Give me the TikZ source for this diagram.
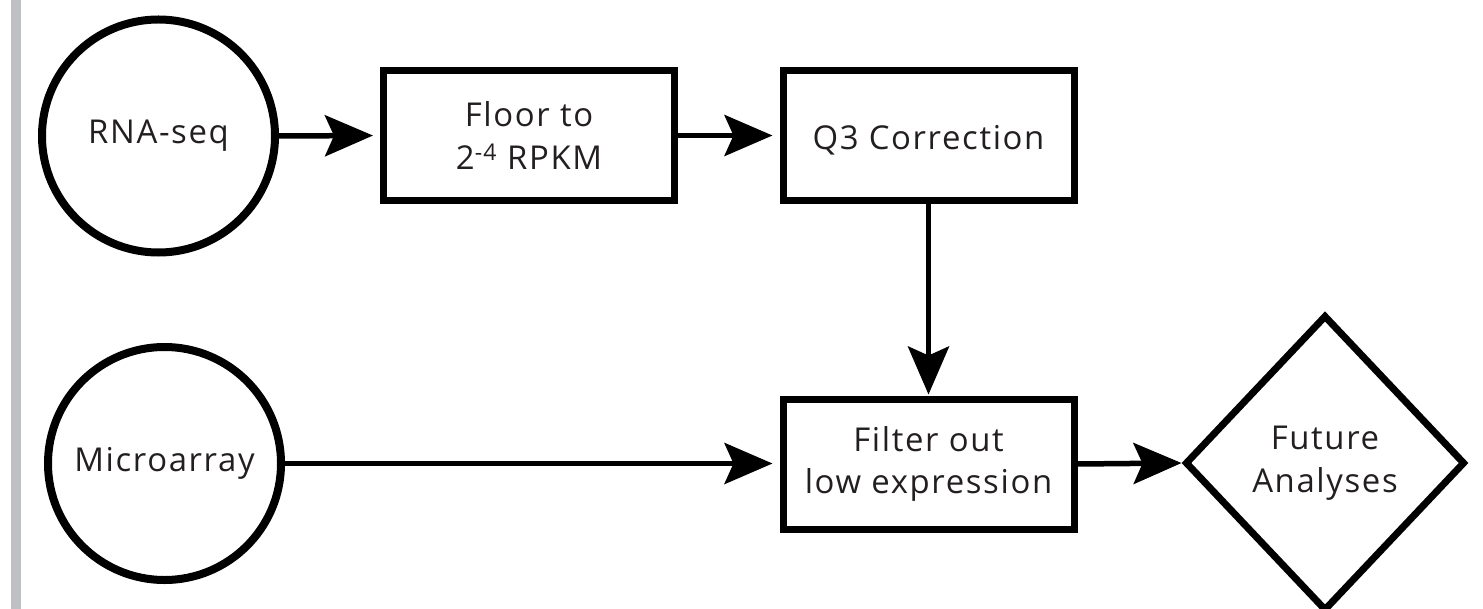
\documentclass[tikz,border=0pt]{standalone}
\usepackage{fontspec}
\setmainfont[LetterSpace=5]{Open Sans}
\usetikzlibrary{arrows.meta,shapes.geometric}
\definecolor{txt}{RGB}{35,31,32}
\definecolor{bar}{RGB}{190,192,196}
\tikzset{
  every node/.style={text=txt, font=\fontsize{33}{43}\selectfont, align=center, inner sep=0pt},
  startnode/.style={circle, draw=black, line width=8bp, minimum size=233bp},
  procbox/.style={rectangle, draw=black, line width=7bp, minimum width=291bp, minimum height=130bp},
  endnode/.style={diamond, draw=black, line width=7bp, minimum width=280bp, minimum height=296bp},
  flow/.style={draw=black, line width=5.5bp, -{Stealth[length=48bp,width=41bp,inset=9bp]}},
}
\begin{document}
\begin{tikzpicture}[x=1bp,y=-1bp]
\useasboundingbox (0,0) rectangle (1483,609);
\clip (0,0) rectangle (1483,609);
\fill[bar] (11,0) rectangle (21,609);
\node[startnode] (rna) at (158.5,136) {RNA-seq};
\node[startnode] (micro) at (164.5,463.5) {Microarray};
\node[procbox] (floor) at (529,135.5) {Floor to\\2\textsuperscript{-4} RPKM};
\node[procbox, text height=29bp, text depth=0bp] (q3) at (928.5,135.5) {Q3 Correction};
\node[procbox] (filter) at (928.5,464) {Filter out\\low expression};
\node[endnode] (future) at (1325,463) {Future\\Analyses};
\draw[flow, shorten >=7bp] (rna.east) -- (floor.west);
\draw[flow, shorten >=7bp] (floor.east) -- (q3.west);
\draw[flow, shorten >=1bp] (q3.south) -- (filter.north);
\draw[flow, shorten >=7bp] (micro.east) -- (micro.east -| filter.west);
\draw[flow] (filter.east) -- (future.west);
\end{tikzpicture}
\end{document}
